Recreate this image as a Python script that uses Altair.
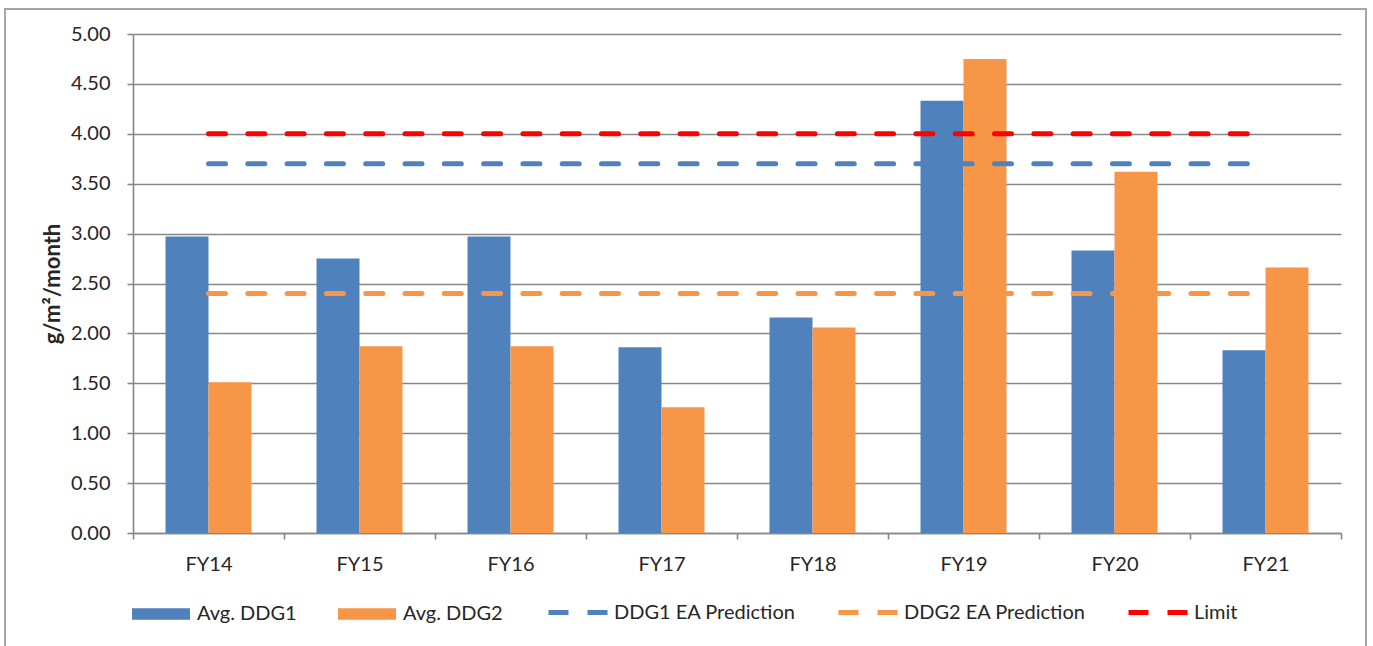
import altair as alt
import pandas as pd

# Fiscal years on the category axis
years = ["FY14", "FY15", "FY16", "FY17", "FY18", "FY19", "FY20", "FY21"]

# Average deposition per fiscal year (g/m²/month)
avg_ddg1 = [2.97, 2.75, 2.97, 1.86, 2.16, 4.33, 2.83, 1.83]
avg_ddg2 = [1.51, 1.87, 1.87, 1.26, 2.06, 4.75, 3.62, 2.66]

# Reference levels drawn as dashed lines
line_names = ["DDG1 EA Prediction", "DDG2 EA Prediction", "Limit"]
line_levels = [3.70, 2.40, 4.00]

bar_names = ["Avg. DDG1", "Avg. DDG2"]
bar_colors = ["#4F81BD", "#F79646"]
line_colors = ["#4F81BD", "#F79646", "#FF0000"]

y_ticks = [0, 0.5, 1.0, 1.5, 2.0, 2.5, 3.0, 3.5, 4.0, 4.5, 5.0]

bars_df = pd.DataFrame(
    [{"year": y, "series": bar_names[0], "value": v} for y, v in zip(years, avg_ddg1)]
    + [{"year": y, "series": bar_names[1], "value": v} for y, v in zip(years, avg_ddg2)]
)
lines_df = pd.DataFrame(
    {"series": line_names, "value": line_levels, "start": years[0], "end": years[-1]}
)

W, H = 1208, 499
GRID = "#878787"
TEXT = "#262626"
FONT = "Lato"
FS = 20

x_scale = alt.Scale(domain=years, paddingInner=0, paddingOuter=0)
y_scale = alt.Scale(domain=[0, 5], nice=False)

x_axis = alt.Axis(
    title=None,
    tickBand="extent",
    tickSize=6,
    tickColor=GRID,
    tickWidth=1.6,
    domainColor=GRID,
    domainWidth=1.6,
    labelFont=FONT,
    labelFontSize=FS,
    labelColor=TEXT,
    labelPadding=15,
    labelAngle=0,
    grid=False,
)

y_axis = alt.Axis(
    title="g/m²/month",
    values=y_ticks,
    format=".2f",
    grid=True,
    gridColor=GRID,
    gridWidth=1.6,
    tickSize=6,
    tickColor=GRID,
    tickWidth=1.6,
    domainColor=GRID,
    domainWidth=1.6,
    labelFont=FONT,
    labelFontSize=FS,
    labelColor=TEXT,
    labelPadding=17,
    titleFont=FONT,
    titleFontSize=22,
    titleFontWeight="bold",
    titleColor=TEXT,
    titleX=-81,
    titleY=H / 2,
    titleAlign="center",
    titleBaseline="middle",
)

legend_common = dict(
    title=None,
    orient="none",
    direction="horizontal",
    labelFont=FONT,
    labelFontSize=FS,
    labelColor=TEXT,
    labelLimit=400,
    padding=0,
)

bars = alt.Chart(bars_df).mark_bar().encode(
    x=alt.X("year:N", scale=x_scale, sort=years, axis=x_axis),
    xOffset=alt.XOffset(
        "series:N",
        sort=bar_names,
        scale=alt.Scale(domain=bar_names, paddingInner=0, paddingOuter=0.756),
    ),
    y=alt.Y("value:Q", scale=y_scale, axis=y_axis),
    color=alt.Color(
        "series:N",
        sort=bar_names,
        scale=alt.Scale(domain=bar_names, range=bar_colors),
        legend=alt.Legend(
            legendX=-1,
            legendY=551,
            symbolType="M-1,-0.2H1V0.2H-1Z",
            symbolSize=3364,
            symbolStrokeWidth=0,
            symbolOpacity=1,
            labelOffset=7,
            columnPadding=41,
            **legend_common,
        ),
    ),
)

lines = alt.Chart(lines_df).mark_rule(
    strokeWidth=5, strokeDash=[17, 22.3], strokeCap="round"
).encode(
    x=alt.X("start:N", scale=x_scale, sort=years, axis=x_axis),
    x2="end:N",
    y=alt.Y("value:Q", scale=y_scale, axis=y_axis),
    stroke=alt.Stroke(
        "series:N",
        sort=line_names,
        scale=alt.Scale(domain=line_names, range=line_colors),
        legend=alt.Legend(
            legendX=413,
            legendY=546.5,
            symbolType="stroke",
            symbolSize=3481,
            symbolStrokeWidth=5,
            symbolDash=[20, 19],
            labelOffset=4,
            columnPadding=32,
            **legend_common,
        ),
    ),
)

# Outer border around the whole figure
frame = alt.Chart(alt.Data(values=[{}])).mark_rect(
    fill=None, stroke="#a6a6a6", strokeWidth=2
).encode(
    x=alt.value(-128),
    x2=alt.value(1233),
    y=alt.value(-25),
    y2=alt.value(640),
)

chart = (
    alt.layer(frame, bars, lines)
    .properties(
        width=W,
        height=H,
        padding={"left": 133, "top": 34, "right": 32, "bottom": 113},
        autosize=alt.AutoSizeParams(type="none"),
        background="white",
    )
    .configure_view(strokeWidth=0)
)

chart.save("out.html", embed_options={"renderer": "svg", "actions": False})
